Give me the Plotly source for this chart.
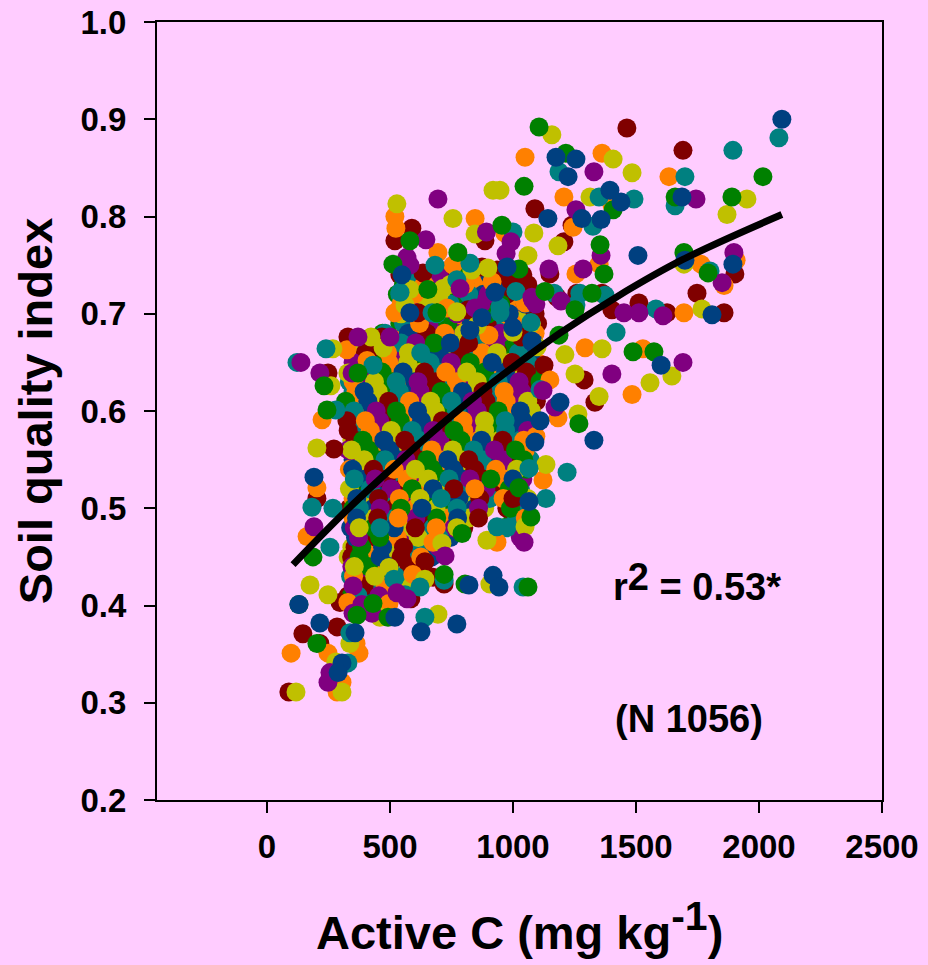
import plotly.graph_objects as go

BG = "#FFCCFF"
FONT = "Liberation Sans, Arial, sans-serif"
colors = ["#800000", "#FF8000", "#C0C000", "#008080", "#800080", "#008000", "#004080"]

# Readings on the edge of the cloud, by colour
darkred_x = [1463,1691,1089,1240,1207,1902,1150,1748,1858,1626,1512,1402,1362,1260,1179,1126,1289,1333,589,520,886,634,874,935,988,614,817,1033,329,467,427,248,272,203,146,215,89,285,297,585,642,675,720,1000]
darkred_y = [.891,.868,.808,.791,.774,.741,.741,.721,.701,.701,.711,.704,.721,.721,.717,.647,.632,.609,.788,.775,.775,.742,.748,.745,.735,.701,.704,.676,.676,.676,.665,.639,.561,.510,.371,.361,.311,.378,.403,.407,.445,.429,.422,.510]
orange_x = [1049,1362,1634,1207,1402,1244,967,1907,1764,1350,1256,1858,1695,1049,1293,1528,1484,1150,1183,520,524,846,695,756,915,805,520,732,902,325,407,224,203,163,98,248,374,362,305,285,329,496,593,675,935,1093,1122]
orange_y = [.861,.865,.841,.820,.812,.789,.783,.755,.751,.751,.741,.729,.701,.711,.665,.664,.617,.632,.593,.800,.788,.798,.763,.750,.733,.730,.701,.706,.678,.663,.652,.591,.521,.471,.351,.351,.351,.361,.321,.311,.403,.402,.432,.465,.465,.574,.529]
olive_x = [1158,1407,1484,947,1313,1951,1870,1085,1183,1061,1695,1768,1362,1211,1646,1557,1252,1350,1264,528,919,756,846,581,833,898,715,561,772,854,1000,1098,268,423,472,329,260,203,175,248,337,280,118,305,459,642,496,711,894,906,1049,695,1134]
olive_y = [.884,.859,.845,.827,.820,.818,.802,.783,.770,.760,.751,.705,.664,.658,.636,.629,.638,.615,.597,.813,.827,.798,.782,.725,.745,.747,.726,.709,.702,.688,.681,.666,.664,.676,.665,.639,.626,.562,.421,.411,.361,.342,.311,.311,.388,.427,.439,.464,.467,.422,.481,.391,.545]
teal_x = [2081,1894,1187,1699,1350,1492,1659,1325,1000,1801,1581,1374,1272,1256,1167,1012,1073,1419,1110,683,825,772,541,671,947,947,240,122,431,280,183,268,256,329,337,561,622,720,1041,642,516,935,1134,1065,1220]
teal_y = [.881,.868,.846,.841,.820,.818,.811,.790,.784,.744,.705,.719,.721,.709,.721,.723,.691,.681,.622,.750,.752,.735,.722,.701,.707,.701,.664,.650,.647,.601,.501,.500,.460,.341,.372,.411,.419,.426,.419,.388,.427,.481,.510,.541,.537]
purple_x = [1329,1744,1256,1358,1898,1146,1285,1850,1610,1512,1451,1195,1077,1093,1691,1402,1122,1171,695,646,892,992,972,569,581,785,846,1081,370,500,138,215,346,191,256,248,350,386,427,528,569,724,1045]
purple_y = [.846,.818,.807,.760,.763,.746,.746,.732,.698,.701,.701,.713,.717,.710,.650,.638,.621,.604,.818,.776,.784,.774,.762,.758,.750,.726,.706,.714,.676,.676,.650,.639,.639,.481,.331,.321,.392,.401,.392,.413,.407,.451,.465]
green_x = [1106,1215,2016,1045,1407,1659,1890,955,1354,1695,1370,1024,1793,1321,1252,1130,1187,1488,1573,1268,581,776,512,654,691,370,232,244,187,130,203,366,431,492,720,793,805,1061,1073,1024]
green_y = [.892,.865,.841,.831,.807,.820,.820,.791,.771,.763,.741,.746,.742,.721,.704,.723,.678,.661,.661,.587,.775,.763,.751,.725,.701,.639,.626,.601,.450,.401,.361,.390,.402,.388,.432,.474,.422,.419,.491,.521]
navy_x = [2093,1175,1256,1224,1394,1439,1687,1142,1280,1358,1508,1699,1894,1809,1077,1602,1191,1329,549,976,927,581,874,825,1000,1077,191,130,215,358,305,289,520,821,919,943,772,626,1110,1089,1065]
navy_y = [.900,.861,.859,.841,.827,.815,.820,.798,.798,.797,.760,.755,.751,.699,.672,.647,.609,.570,.740,.748,.722,.701,.696,.683,.686,.671,.532,.401,.382,.372,.341,.331,.388,.421,.431,.419,.381,.373,.590,.568,.507]

# Readings inside the dense cloud, one row per index level
core_levels = [.74,.73,.72,.71,.70,.69,.68,.67,.66,.65,.64,.63,.62,.61,.60,.59,.58,.57,.56,.55,.54,.53,.52,.51,.50,.49,.48,.47,.46,.45,.44,.43,.42,.41,.40]
core_rows = [
 [540,552,575,612,640,700,712,760,778,850,862,905,925,960,1040],
 [555,565,640,652,720,745,790,800,860,880,940,950,1000,1060],
 [530,540,600,612,680,700,750,770,820,835,880,900,950,975,1020,1100],
 [545,590,605,650,672,730,745,800,815,870,890,930,950,990,1005,1050],
 [530,545,610,620,690,705,760,772,830,842,900,915,970,985,1030,1045,1090],
 [540,555,620,635,660,680,720,735,770,790,830,850,880,895,940,955,1000,1015,1060,1075,1100],
 [470,480,560,575,600,615,650,665,710,722,760,772,800,815,860,872,910,925,950,965,1000,1040,1055,1090],
 [380,395,440,500,515,545,560,590,605,640,655,680,695,730,745,770,785,820,835,870,885,915,930,960,975,1005,1020,1050,1085],
 [345,360,400,412,450,490,505,530,575,590,615,625,660,700,712,745,785,800,830,875,888,920,935,965,1010,1022,1040,1075],
 [350,395,408,430,480,495,520,560,572,600,650,663,690,735,748,775,815,826,860,900,915,945,985,997,1030,1060,1100],
 [360,372,410,455,468,500,540,553,585,625,640,670,715,727,755,800,812,845,885,898,930,970,984,1015,1055,1090],
 [335,350,380,425,437,470,510,525,555,600,614,640,685,697,725,770,782,810,855,870,895,940,952,980,1025,1040,1070,1110],
 [350,362,395,440,452,485,525,538,570,610,622,655,695,708,740,780,795,825,865,878,910,950,964,995,1035,1048,1080],
 [320,365,376,410,450,465,495,535,548,580,620,632,665,705,718,750,790,804,835,875,890,920,960,972,1005,1045,1060,1095],
 [340,354,385,430,444,470,515,526,555,600,612,645,685,698,730,770,783,815,855,868,900,940,952,985,1030,1042,1075],
 [325,355,368,400,445,458,485,530,542,570,615,628,655,700,713,740,785,797,825,870,884,910,955,968,995,1040,1052,1085],
 [330,342,375,420,433,460,505,518,545,590,604,630,675,688,715,760,773,800,845,858,885,930,942,970,1015,1028,1060],
 [345,358,390,435,448,475,520,532,560,605,618,645,690,702,730,775,788,815,860,872,900,945,958,985,1030,1044,1075],
 [330,344,370,415,428,455,500,512,540,585,598,625,670,684,710,755,767,795,840,853,880,925,938,965,1010,1023,1050],
 [350,364,395,435,448,480,520,534,565,605,618,650,690,704,735,775,790,820,860,874,905,945,958,990,1030,1044,1070],
 [335,348,375,420,433,460,505,517,545,590,603,630,675,688,715,760,772,800,845,858,885,930,943,970,1015,1028,1055],
 [355,368,400,440,454,485,525,537,570,610,624,655,695,708,740,780,793,825,865,880,910,950,962,1000,1040],
 [335,347,375,420,434,465,505,520,550,590,603,635,675,690,720,760,774,805,845,860,890,930,945,985,1030],
 [350,365,395,440,453,480,525,538,565,610,622,650,695,708,735,780,792,820,865,878,905,960,975,1010,1060],
 [335,350,375,420,433,460,505,518,545,590,602,630,675,687,715,760,773,800,845,860,885,975,990,1020],
 [350,364,395,435,450,480,520,534,565,605,619,650,690,703,735,775,790,820,860,1000,1015,1050],
 [340,355,375,420,432,460,505,517,545,590,603,630,675,688,715,760,772,800,960,975,1010],
 [360,372,400,445,458,490,530,543,570,615,628,655,700,712,745,1030],
 [345,358,385,430,443,470,515,527,555,600,614,640,685,698],
 [330,344,375,415,428,460,500,513,545,585,598,625,670],
 [345,355,400,412,440,485,498,525,565,578,610],
 [340,352,385,425,438,470,510,523,555,590],
 [350,362,395,408,440,480,492,530,570],
 [330,343,370,382,410,455,468,500],
 [345,357,385,398,425,470],
]

curve_x = [106,300,472,650,846,1000,1191,1423,1691,2093]
curve_y = [.442,.492,.533,.5735,.615,.645,.680,.7176,.7558,.802]

core_x = [v for row in core_rows for v in row]
core_y = [lvl for lvl, row in zip(core_levels, core_rows) for _ in row]
n = len(core_x)
# drawing order and colour follow the original's cycling through the seven colours
order = sorted(range(n), key=lambda i: (i * 257) % n)

fig = go.Figure()
fig.add_trace(go.Scatter(x=[core_x[i] for i in order], y=[core_y[i] for i in order], mode="markers",
                         marker=dict(size=19, color=[colors[k % 7] for k in range(n)], line_width=0), showlegend=False))
edges = [(darkred_x, darkred_y), (orange_x, orange_y), (olive_x, olive_y), (teal_x, teal_y),
         (purple_x, purple_y), (green_x, green_y), (navy_x, navy_y)]
for (ex, ey), c in zip(edges, colors):
    fig.add_trace(go.Scatter(x=ex, y=ey, mode="markers",
                             marker=dict(size=19, color=c, line_width=0), showlegend=False))
fig.add_trace(go.Scatter(x=curve_x, y=curve_y, mode="lines",
                         line=dict(color="black", width=7, shape="spline"), showlegend=False))

axis = dict(showgrid=False, zeroline=False, showline=True, mirror=True, linecolor="black", linewidth=2.2,
            ticks="outside", ticklen=11, tickwidth=2.2, tickcolor="black", automargin=False,
            tickfont=dict(family=FONT, size=33, color="black", weight="bold"))
fig.update_xaxes(range=[-447, 2500], tickvals=[0, 500, 1000, 1500, 2000, 2500], ticklabelstandoff=5, **axis)
fig.update_yaxes(range=[0.2, 1.0], tickvals=[.2, .3, .4, .5, .6, .7, .8, .9, 1.0], tickformat=".1f", ticklabelstandoff=11, **axis)

fig.update_layout(
    width=928, height=965, autosize=False, paper_bgcolor=BG, plot_bgcolor=BG,
    margin=dict(l=157, r=46, t=22, b=165, autoexpand=False),
    font=dict(family=FONT, color="black"),
    annotations=[
        dict(text="Soil quality index", xref="paper", yref="paper", x=-0.168, y=0.5, xanchor="center", yanchor="middle",
             textangle=-90, showarrow=False, font=dict(size=47, weight="bold")),
        dict(text='Active C (mg kg<span style="font-size:41px;baseline-shift:19px">-1</span>)', xref="paper", yref="paper",
             x=0.5, y=-0.162, xanchor="center", yanchor="middle", showarrow=False, font=dict(size=47, weight="bold")),
        dict(text='r<span style="baseline-shift:10px">2</span> = 0.53*', x=1750, y=0.424, xanchor="center", yanchor="middle",
             showarrow=False, font=dict(size=38, weight="bold")),
        dict(text="(N 1056)", x=1715, y=0.283, xanchor="center", yanchor="middle",
             showarrow=False, font=dict(size=38, weight="bold")),
    ],
)
fig.write_html("out.html", config=dict(displayModeBar=False),
               post_script="document.body.style.margin='0';document.documentElement.style.overflow='hidden';")
